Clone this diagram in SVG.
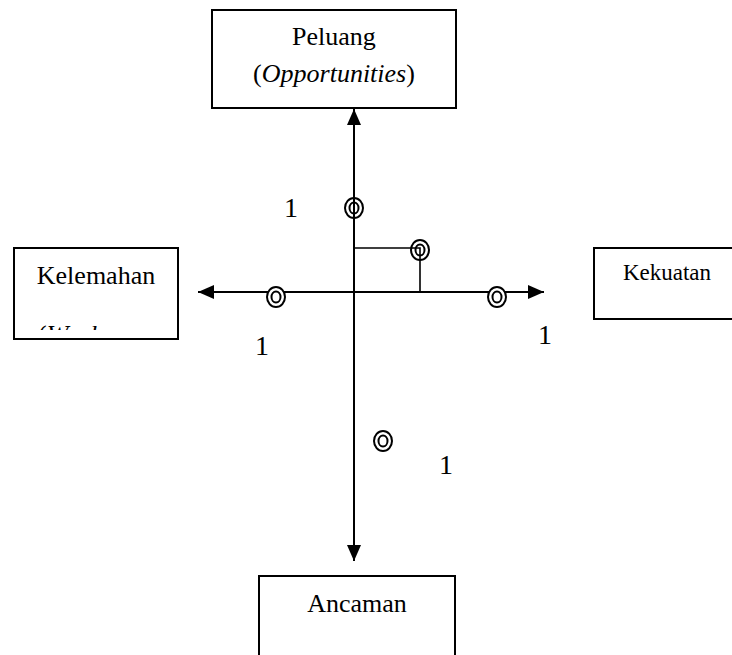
<svg xmlns="http://www.w3.org/2000/svg" width="732" height="655" viewBox="0 0 732 655">
<style>
.box{fill:#fff;stroke:#000;stroke-width:2}
text{font-family:'Liberation Serif', 'Times New Roman', serif;fill:#000}
.ax{stroke:#000;stroke-width:2;fill:none}
.br{stroke:#000;stroke-width:1.6;fill:none}
.ro{stroke:#000;stroke-width:2}
</style>
<defs>
<marker id="ah" viewBox="0 0 16 14" refX="16" refY="7" markerWidth="16" markerHeight="14" markerUnits="userSpaceOnUse" orient="auto">
<path d="M0,0 L16,7 L0,14 Z" fill="#000"/>
</marker>
<clipPath id="kc"><rect x="14" y="248" width="150" height="82"/></clipPath>
</defs>
<g id="connectors">
<line class="ax" x1="354" y1="292" x2="354" y2="109" marker-end="url(#ah)"/>
<line class="ax" x1="354" y1="292" x2="354" y2="561" marker-end="url(#ah)"/>
<line class="ax" x1="354" y1="292" x2="198" y2="292" marker-end="url(#ah)"/>
<line class="ax" x1="354" y1="292" x2="544" y2="292" marker-end="url(#ah)"/>
<path class="br" d="M354,248 H420 V292"/>
</g>
<g id="points">
<g id="p-top"><ellipse class="ro" cx="354" cy="208" rx="9" ry="10" fill="none"/><ellipse class="ro" cx="354" cy="208" rx="4.5" ry="5.5" fill="none"/></g>
<g id="p-mid"><ellipse class="ro" cx="420" cy="250" rx="9" ry="10" fill="none"/><ellipse class="ro" cx="420" cy="250" rx="4.5" ry="5.5" fill="none"/></g>
<g id="p-left"><ellipse class="ro" cx="276" cy="297" rx="9" ry="10" fill="#fff"/><ellipse class="ro" cx="276" cy="297" rx="4.5" ry="5.5" fill="#fff"/></g>
<g id="p-right"><ellipse class="ro" cx="497" cy="297" rx="9" ry="10" fill="#fff"/><ellipse class="ro" cx="497" cy="297" rx="4.5" ry="5.5" fill="#fff"/></g>
<g id="p-bottom"><ellipse class="ro" cx="383" cy="441" rx="9" ry="10" fill="#fff"/><ellipse class="ro" cx="383" cy="441" rx="4.5" ry="5.5" fill="#fff"/></g>
</g>
<g id="labels" font-family="Liberation Serif, serif">
<text x="291" y="217" font-size="28" text-anchor="middle">1</text>
<text x="262" y="355" font-size="28" text-anchor="middle">1</text>
<text x="545" y="344" font-size="28" text-anchor="middle">1</text>
<text x="446" y="474" font-size="28" text-anchor="middle">1</text>
</g>
<g id="node-peluang" font-family="Liberation Serif, serif">
<rect class="box" x="212" y="10" width="244" height="98"/>
<text x="334" y="45" font-size="26" text-anchor="middle">Peluang</text>
<text x="334" y="82" font-size="26" text-anchor="middle">(<tspan font-style="italic">Opportunities</tspan>)</text>
</g>
<g id="node-kelemahan" font-family="Liberation Serif, serif">
<rect class="box" x="14" y="248" width="164" height="91"/>
<text x="96" y="284" font-size="26" text-anchor="middle">Kelemahan</text>
<text x="38" y="343" font-size="26" clip-path="url(#kc)">(<tspan font-style="italic">Weaknesses</tspan>)</text>
</g>
<g id="node-kekuatan" font-family="Liberation Serif, serif">
<rect class="box" x="594" y="248" width="150" height="71"/>
<text x="667" y="280" font-size="23" text-anchor="middle">Kekuatan</text>
</g>
<g id="node-ancaman" font-family="Liberation Serif, serif">
<rect class="box" x="259" y="576" width="196" height="100"/>
<text x="357" y="612" font-size="26" text-anchor="middle">Ancaman</text>
</g>
</svg>
